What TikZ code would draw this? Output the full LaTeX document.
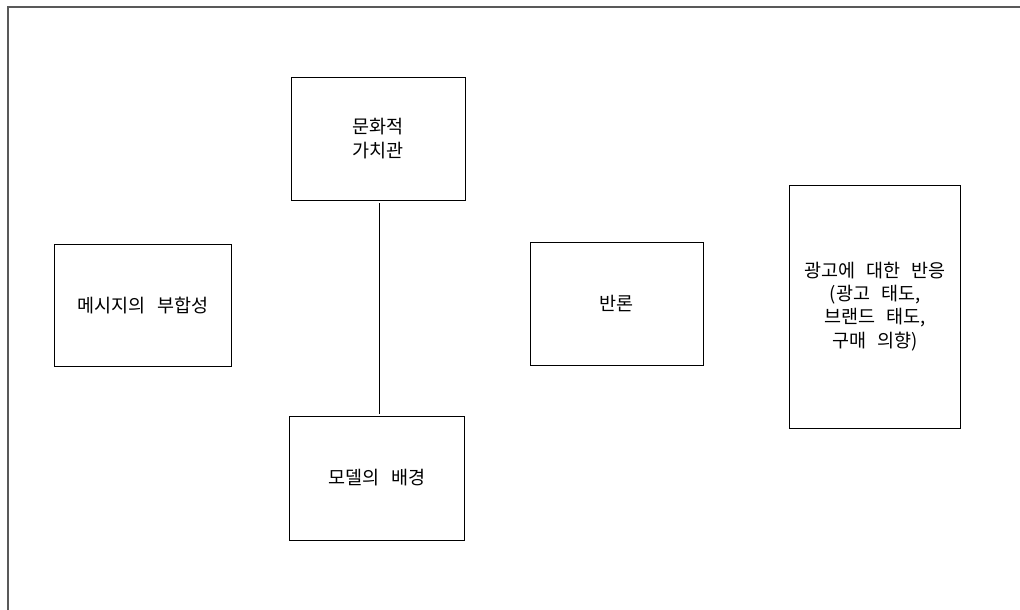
\documentclass[tikz,border=0pt]{standalone}
\usepackage{fontspec}
\setmainfont{Noto Sans CJK KR}
\newcommand\myboxfont{\fontsize{18.5}{23.3}\selectfont\spaceskip 11pt\relax}
\begin{document}
\begin{tikzpicture}[x=1pt,y=-1pt,
  box/.style={draw=black,line width=0.9pt,align=center,inner sep=0pt,
    font=\myboxfont},
  frame/.style={draw=black!65,line width=2pt},
  link/.style={draw=black,line width=1pt}]
\useasboundingbox (0,0) rectangle (1020,610);
\draw[frame] (7.5,611) -- (7.5,7.5) -- (1021,7.5);
\node[box,minimum width=174pt,minimum height=123pt] (culture) at (378,138.5) {문화적\\가치관};
\node[box,minimum width=175pt,minimum height=124pt] (model) at (377,478) {모델의 배경};
\node[box,minimum width=177pt,minimum height=122pt] (msg) at (143,305.5) {메시지의 부합성};
\node[box,minimum width=173pt,minimum height=123pt] (counter) at (616.5,303.5) {반론};
\node[box,minimum width=171pt,minimum height=243pt] (resp) at (875,306.5) {광고에 대한 반응\\(광고 태도,\\브랜드 태도,\\구매 의향)};
\coordinate (ltop) at (379.5,203);
\coordinate (lbot) at (379.5,414);
\draw[link] (ltop) -- (lbot);
\end{tikzpicture}
\end{document}
